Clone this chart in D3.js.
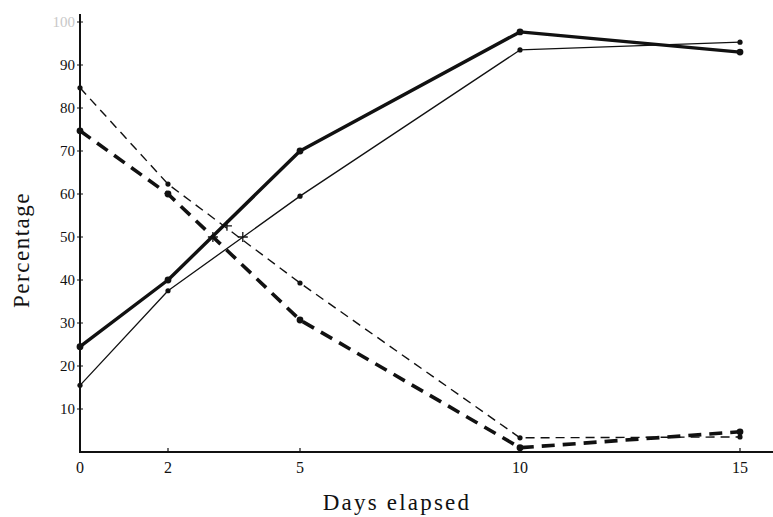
<!DOCTYPE html>
<html>
<head>
<meta charset="utf-8">
<script src="https://cdn.jsdelivr.net/npm/d3@7"></script>
<style>
  body { margin: 0; background: #fff; }
  svg { display: block; }
  text { font-family: "Liberation Serif", "DejaVu Serif", serif; fill: #111; }
</style>
</head>
<body>
<svg id="chart" width="773" height="517"></svg>
<script>
// Days on the x axis
const days = [0, 2, 5, 10, 15];
const xTicks = [0, 2, 5, 10, 15];
const yTicks = [10, 20, 30, 40, 50, 60, 70, 80, 90, 100];

// Four curves (percentage)
const thickSolid = [24.5, 40, 70, 97.7, 93];
const thinSolid = [15.5, 37.5, 59.5, 93.5, 95.3];
const thinDashed = [84.7, 62.3, 39.3, 3.3, 3.5];
const thickDashed = [74.7, 60, 30.7, 1, 4.7];

// small "+" marks near the crossings
const crossDays = [3.02, 3.34, 3.7];
const crossValues = [50, 52.6, 50];

const svg = d3.select('#chart');

const x = d3.scaleLinear().domain([0, 15]).range([80, 740]);
const y = d3.scaleLinear().domain([0, 100]).range([452, 22]);

// axes
svg.append('line')
    .attr('x1', x(0)).attr('x2', 773)
    .attr('y1', y(0)).attr('y2', y(0))
    .attr('stroke', '#111').attr('stroke-width', 2);
svg.append('line')
    .attr('x1', x(0)).attr('x2', x(0))
    .attr('y1', y(0) + 1).attr('y2', 14)
    .attr('stroke', '#111').attr('stroke-width', 2);

// y ticks and labels
yTicks.forEach(t => {
    svg.append('line')
        .attr('x1', x(0) - 3).attr('x2', x(0) + 3)
        .attr('y1', y(t)).attr('y2', y(t))
        .attr('stroke', '#111').attr('stroke-width', 1);
    svg.append('text')
        .attr('x', x(0) - 5).attr('y', y(t) + 5)
        .attr('text-anchor', 'end')
        .attr('font-size', 15)
        .style('fill', t === 100 ? '#c8c8c8' : '#111')
        .text(t);
});

// x ticks and labels
xTicks.forEach(t => {
    if (t > 0) {
        svg.append('line')
            .attr('x1', x(t)).attr('x2', x(t))
            .attr('y1', y(0)).attr('y2', y(0) - 4)
            .attr('stroke', '#111').attr('stroke-width', 1.2);
    }
    svg.append('text')
        .attr('x', x(t)).attr('y', y(0) + 21)
        .attr('text-anchor', 'middle')
        .attr('font-size', 16)
        .text(t);
});

// axis titles
svg.append('text')
    .attr('x', 397).attr('y', 510)
    .attr('text-anchor', 'middle')
    .attr('font-size', 23)
    .attr('letter-spacing', 2.2)
    .text('Days elapsed');
svg.append('text')
    .attr('transform', 'translate(29,250) rotate(-90)')
    .attr('text-anchor', 'middle')
    .attr('font-size', 23)
    .attr('letter-spacing', 1.5)
    .text('Percentage');

const line = d3.line()
    .x((d, i) => x(days[i]))
    .y(d => y(d));

const series = [
    { values: thinSolid, width: 1.3, dash: null, r: 2.6 },
    { values: thinDashed, width: 1.4, dash: '9,6', r: 2.6 },
    { values: thickDashed, width: 3.6, dash: '13,8', r: 3.4 },
    { values: thickSolid, width: 3.4, dash: null, r: 3.4 }
];

series.forEach(s => {
    svg.append('path')
        .datum(s.values)
        .attr('d', line)
        .attr('fill', 'none')
        .attr('stroke', '#111')
        .attr('stroke-width', s.width)
        .attr('stroke-dasharray', s.dash)
        .attr('stroke-linejoin', 'round');
    svg.selectAll(null)
        .data(s.values)
        .enter()
        .append('circle')
        .attr('cx', (d, i) => x(days[i]))
        .attr('cy', d => y(d))
        .attr('r', s.r)
        .attr('fill', '#111');
});

// crossing marks
crossDays.forEach((d, i) => {
    const cx = x(d), cy = y(crossValues[i]);
    svg.append('path')
        .attr('d', `M${cx - 5},${cy}H${cx + 5}M${cx},${cy - 5}V${cy + 5}`)
        .attr('stroke', '#111')
        .attr('stroke-width', 1.3);
});
</script>
</body>
</html>
